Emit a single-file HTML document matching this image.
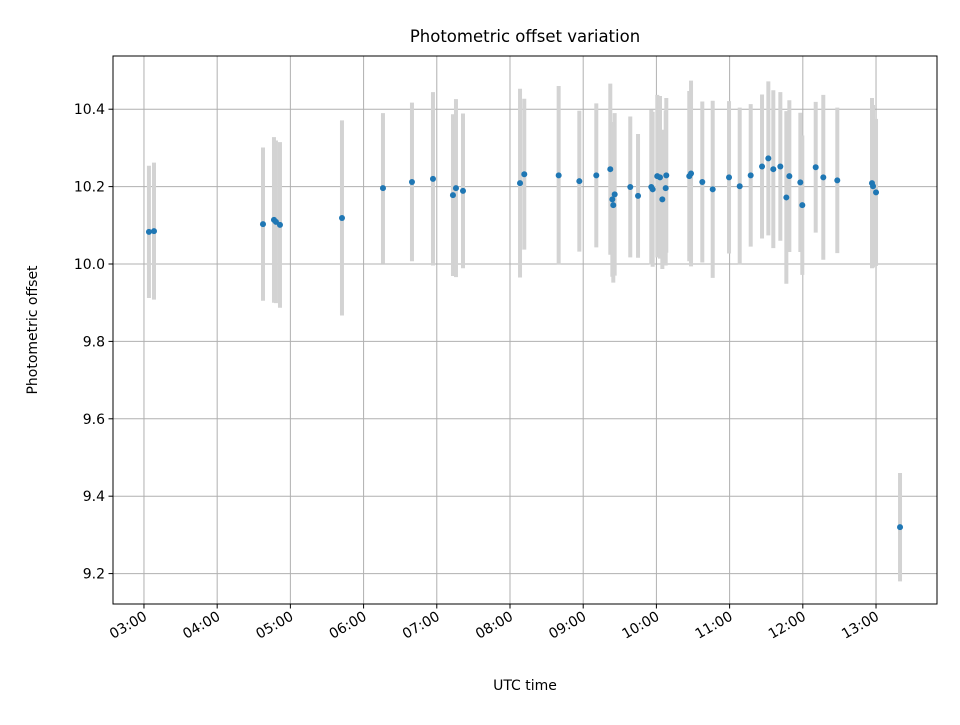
<!DOCTYPE html>
<html><head><meta charset="utf-8"><style>
body{margin:0;background:#fff;}
svg text{font-family:"DejaVu Sans","Liberation Sans",sans-serif;fill:#000;}
</style></head><body>
<svg id="chart" width="960" height="720" xmlns="http://www.w3.org/2000/svg">
<rect width="960" height="720" fill="#fff"/>
<g id="grid"></g>
<g id="bars"></g>
<g id="pts"></g>
<rect x="113" y="56" width="824" height="548" fill="none" stroke="#000" stroke-width="1"/>
<g id="axes"></g>
<text x="525" y="42" font-size="16.5" text-anchor="middle">Photometric offset variation</text>
<text x="525" y="690" font-size="14" text-anchor="middle">UTC time</text>
<text transform="translate(37,330) rotate(-90)" font-size="14" text-anchor="middle">Photometric offset</text>
</svg>
<script>
const times=[3.068,3.137,4.626,4.776,4.803,4.858,5.705,6.265,6.661,6.948,7.221,7.262,7.358,8.137,8.195,8.665,8.947,9.179,9.370,9.430,9.398,9.411,9.643,9.749,9.930,9.949,10.012,10.049,10.135,10.127,10.081,10.449,10.473,10.627,10.769,10.992,11.138,11.288,11.443,11.529,11.597,11.693,11.816,11.775,11.966,11.993,12.176,12.280,12.471,12.945,12.959,13.000,13.328];
const offsets=[10.083,10.085,10.103,10.114,10.109,10.101,10.119,10.196,10.212,10.220,10.178,10.196,10.189,10.209,10.232,10.229,10.214,10.229,10.245,10.180,10.167,10.152,10.199,10.176,10.199,10.193,10.227,10.224,10.229,10.196,10.167,10.227,10.234,10.212,10.193,10.224,10.201,10.229,10.252,10.273,10.245,10.252,10.227,10.172,10.211,10.152,10.250,10.224,10.216,10.209,10.201,10.185,9.320];
const errors=[0.171,0.177,0.198,0.214,0.21,0.214,0.252,0.194,0.205,0.224,0.209,0.23,0.2,0.244,0.195,0.231,0.182,0.186,0.221,0.21,0.2,0.2,0.182,0.16,0.2,0.2,0.21,0.21,0.2,0.2,0.18,0.22,0.24,0.208,0.229,0.197,0.203,0.184,0.186,0.199,0.204,0.192,0.196,0.223,0.18,0.18,0.169,0.213,0.188,0.22,0.21,0.19,0.14];
const xTicks=[3,4,5,6,7,8,9,10,11,12,13];
const xTickLabels=["03:00","04:00","05:00","06:00","07:00","08:00","09:00","10:00","11:00","12:00","13:00"];
const yTicks=[9.2,9.4,9.6,9.8,10.0,10.2,10.4];
const yTickLabels=["9.2","9.4","9.6","9.8","10.0","10.2","10.4"];
const X0=113,X1=937,Y0=604,Y1=56,xmin=2.577,xmax=13.833,ymin=9.1214,ymax=10.5375;
const sx=h=>X0+(h-xmin)/(xmax-xmin)*(X1-X0);
const sy=v=>Y0-(v-ymin)/(ymax-ymin)*(Y0-Y1);
const NS="http://www.w3.org/2000/svg";
function mk(tag,attrs,parent){const e=document.createElementNS(NS,tag);for(const k in attrs)e.setAttribute(k,attrs[k]);parent.appendChild(e);return e;}
const grid=document.getElementById('grid'),axes=document.getElementById('axes'),bars=document.getElementById('bars'),pts=document.getElementById('pts');
xTicks.forEach((t,i)=>{const x=sx(t);
const g=mk('line',{x1:x,x2:x,y1:Y1,y2:Y0,stroke:'#b0b0b0','stroke-width':1},grid);


const tk=mk('line',{x1:x,x2:x,y1:Y0,y2:Y0+4.5,stroke:'#000'},axes);


const tx=mk('text',{transform:`translate(${x+4},${Y0+15}) rotate(-30)`,'font-size':14,'text-anchor':'end'},axes);
tx.textContent=xTickLabels[i];


});
yTicks.forEach((t,i)=>{const y=sy(t);
const g=mk('line',{x1:X0,x2:X1,y1:y,y2:y,stroke:'#b0b0b0','stroke-width':1},grid);


const tk=mk('line',{x1:X0-4.5,x2:X0,y1:y,y2:y,stroke:'#000'},axes);


const tx=mk('text',{x:X0-8,y:y+5,'font-size':14,'text-anchor':'end'},axes);
tx.textContent=yTickLabels[i];


});
times.forEach((t,i)=>{const x=sx(t);
const b=mk('line',{x1:x,x2:x,y1:sy(offsets[i]+errors[i]),y2:sy(offsets[i]-errors[i]),stroke:'#d3d3d3','stroke-width':4},bars);


const p=mk('circle',{cx:x,cy:sy(offsets[i]),r:3,fill:'#1f77b4'},pts);


});
</script>
</body></html>
